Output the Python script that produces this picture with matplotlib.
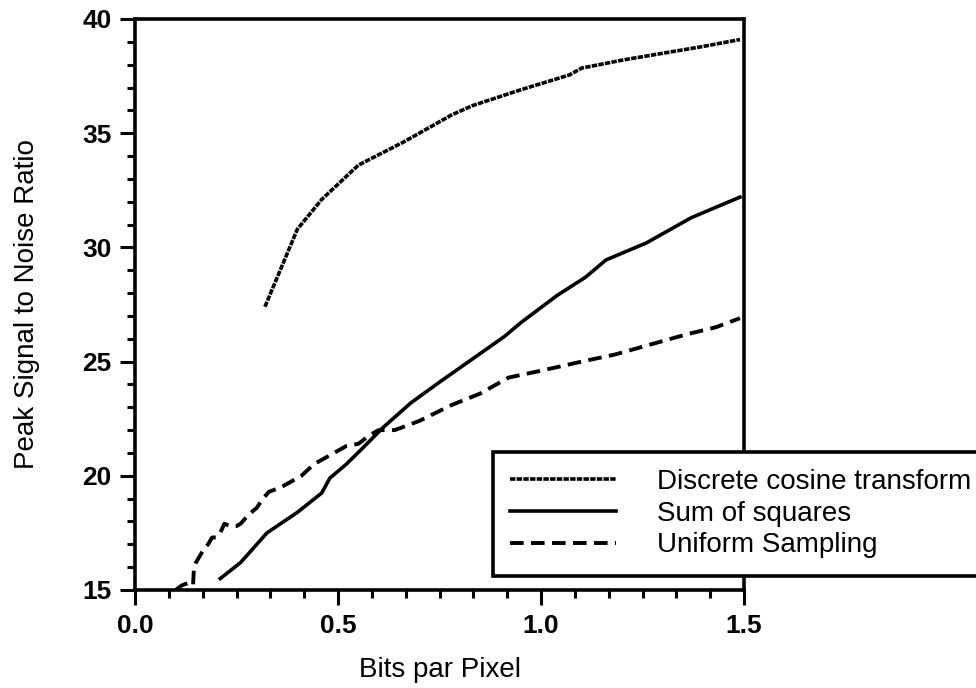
import numpy as np
import matplotlib
matplotlib.use('Agg')
import matplotlib.pyplot as plt
from matplotlib.ticker import MultipleLocator, FixedLocator

plt.rcParams['font.family'] = ['Liberation Sans', 'DejaVu Sans']

# Discrete cosine transform (top curve)
dct_x = [0.32, 0.40, 0.46, 0.55, 0.66, 0.78, 0.83, 0.95, 1.07, 1.10, 1.20, 1.30, 1.40, 1.49]
dct_y = [27.4, 30.8, 32.1, 33.6, 34.6, 35.8, 36.2, 36.9, 37.55, 37.85, 38.2, 38.5, 38.8, 39.1]

# Sum of squares (middle solid curve)
sos_x = [0.21, 0.26, 0.325, 0.40, 0.46, 0.48, 0.52, 0.56, 0.61, 0.68, 0.75, 0.83,
         0.91, 0.95, 1.04, 1.11, 1.16, 1.26, 1.37, 1.49]
sos_y = [15.5, 16.2, 17.5, 18.4, 19.25, 19.9, 20.5, 21.2, 22.1, 23.2, 24.1, 25.1,
         26.1, 26.7, 27.9, 28.7, 29.45, 30.2, 31.3, 32.2]

# Uniform sampling (dashed curve)
uni_x = [0.10, 0.115, 0.13, 0.143, 0.145, 0.15, 0.16, 0.17, 0.18, 0.19, 0.20, 0.21,
         0.22, 0.235, 0.25, 0.26, 0.27, 0.28, 0.30, 0.315, 0.33, 0.36, 0.38, 0.41,
         0.44, 0.47, 0.50, 0.52, 0.55, 0.58, 0.60, 0.64, 0.70, 0.78, 0.85, 0.92,
         1.00, 1.10, 1.18, 1.26, 1.36, 1.43, 1.49]
uni_y = [15.0, 15.2, 15.3, 15.2, 15.9, 16.2, 16.5, 16.8, 17.0, 17.3, 17.3, 17.5,
         17.9, 17.8, 17.8, 17.9, 18.1, 18.3, 18.6, 19.0, 19.3, 19.5, 19.7, 20.0,
         20.5, 20.8, 21.1, 21.3, 21.4, 21.8, 22.0, 22.0, 22.4, 23.1, 23.6, 24.3,
         24.6, 25.0, 25.3, 25.7, 26.2, 26.5, 26.9]

x_major = [0.0, 0.5, 1.0, 1.5]
x_labels = ['0.0', '0.5', '1.0', '1.5']
y_major = [15, 20, 25, 30, 35, 40]

fig = plt.figure(figsize=(9.76, 6.88), dpi=100)
ax = fig.add_axes([135 / 976, 1 - 590 / 688, 609 / 976, 571 / 688])

ax.plot(dct_x, dct_y, color='black', lw=2.6, linestyle=(0, (1.5, 0.35)),
        label='Discrete cosine transform')
ax.plot(sos_x, sos_y, color='black', lw=2.6, label='Sum of squares')
ax.plot(uni_x, uni_y, color='black', lw=2.8, linestyle=(0, (3.5, 1.9)),
        label='Uniform Sampling')

ax.set_xlim(0, 1.5)
ax.set_ylim(15, 40)

ax.xaxis.set_major_locator(FixedLocator(x_major))
ax.set_xticklabels(x_labels)
ax.xaxis.set_minor_locator(MultipleLocator(1 / 12))
ax.yaxis.set_major_locator(FixedLocator(y_major))
ax.yaxis.set_minor_locator(MultipleLocator(1))

ax.tick_params(which='major', direction='out', length=11, width=2.2, pad=6,
               labelsize=19, top=False, right=False)
ax.tick_params(which='minor', direction='out', length=6, width=2.2,
               top=False, right=False)
for lab in ax.get_xticklabels() + ax.get_yticklabels():
    lab.set_fontweight('bold')

for s in ax.spines.values():
    s.set_linewidth(2.6)

ax.set_xlabel('Bits par Pixel', fontsize=20, labelpad=14)
ax.set_ylabel('Peak Signal to Noise Ratio', fontsize=20, labelpad=30)

leg = fig.legend(loc='upper left', bbox_to_anchor=(493 / 976, 1 - 452 / 688),
                 fontsize=20, frameon=True, fancybox=False, edgecolor='black',
                 framealpha=1, handlelength=3.8, handletextpad=1.5,
                 labelspacing=0.2, borderpad=0.62, borderaxespad=0)
leg.get_frame().set_linewidth(2.6)
leg.set_zorder(10)

fig.savefig('out.png', dpi=100)
